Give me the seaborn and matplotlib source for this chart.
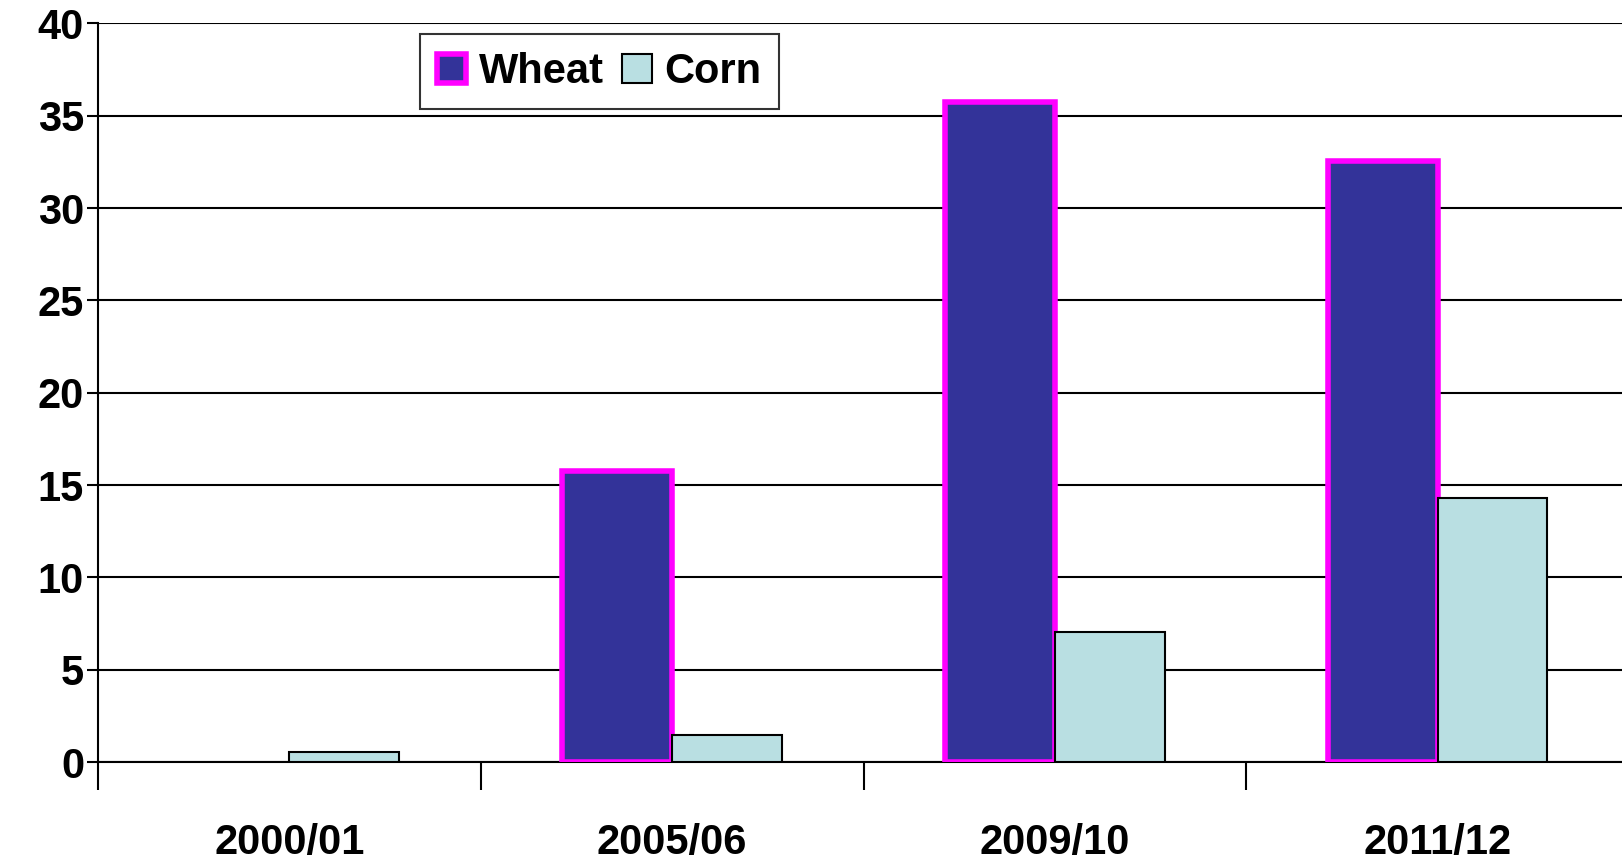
import pandas as pd
import matplotlib.pyplot as plt
import seaborn as sns
from matplotlib.patches import Patch

# Data
years = ["2000/01", "2005/06", "2009/10", "2011/12"]
wheat = [0, 15.75, 35.75, 32.55]
corn = [0.55, 1.45, 7.05, 14.3]

df = pd.DataFrame({
    "year": years * 2,
    "crop": ["Wheat"] * 4 + ["Corn"] * 4,
    "value": wheat + corn,
})

sns.set_style("white")
plt.rcParams["font.family"] = ["Liberation Sans", "DejaVu Sans"]
plt.rcParams["font.weight"] = "bold"
plt.rcParams["text.color"] = "black"
plt.rcParams["xtick.color"] = "black"
plt.rcParams["ytick.color"] = "black"

fig = plt.figure(figsize=(16.22, 8.66), dpi=100)
ax = fig.add_axes([0.0604, 0.12, 0.944, 0.853])

sns.barplot(
    data=df, x="year", y="value", hue="crop",
    palette={"Wheat": "#333399", "Corn": "#B9DFE2"},
    width=0.573, gap=0, saturation=1, errorbar=None,
    legend=False, ax=ax, zorder=3
)

# bar edges
for bar in ax.containers[0]:
    bar.set_edgecolor("#FF00FF")
    bar.set_linewidth(4)
    if bar.get_height() == 0:
        bar.set_visible(False)
for bar in ax.containers[1]:
    bar.set_edgecolor("black")
    bar.set_linewidth(1.5)

ax.set_xlim(-0.5, 3.5)
ax.set_ylim(0, 40)
ax.set_yticks(range(0, 41, 5))
ax.yaxis.grid(True, color="black", linewidth=1.5, zorder=0)
ax.set_axisbelow(True)

ax.set_xlabel("")
ax.set_ylabel("")
ax.tick_params(axis="y", labelsize=30, length=8, width=1.5, direction="out",
               left=True, color="black", labelcolor="black", pad=2)
ax.tick_params(axis="x", which="major", labelsize=30, length=0, pad=44,
               labelcolor="black")
ax.set_xticks([-0.5, 0.5, 1.5, 2.5, 3.5], minor=True)
ax.tick_params(axis="x", which="minor", length=20, width=1.5, bottom=True,
               direction="out", color="black")
for lbl in ax.get_xticklabels() + ax.get_yticklabels():
    lbl.set_fontweight("bold")

for side in ["top", "right"]:
    ax.spines[side].set_visible(False)
for side in ["left", "bottom"]:
    ax.spines[side].set_color("black")
    ax.spines[side].set_linewidth(1.5)

handles = [
    Patch(facecolor="#333399", edgecolor="#FF00FF", linewidth=4, label="Wheat"),
    Patch(facecolor="#B9DFE2", edgecolor="black", linewidth=1.5, label="Corn"),
]
leg = ax.legend(
    handles=handles, loc="upper left", bbox_to_anchor=(0.21, 0.985),
    ncol=2, frameon=True, fancybox=False, borderaxespad=0,
    handlelength=0.7, handleheight=0.7, handletextpad=0.3, columnspacing=0.45,
    borderpad=0.42, prop={"weight": "bold", "size": 30}
)
leg.get_frame().set_edgecolor("black")
leg.get_frame().set_linewidth(1.5)
leg.set_zorder(5)

fig.savefig("out.png", dpi=100)
